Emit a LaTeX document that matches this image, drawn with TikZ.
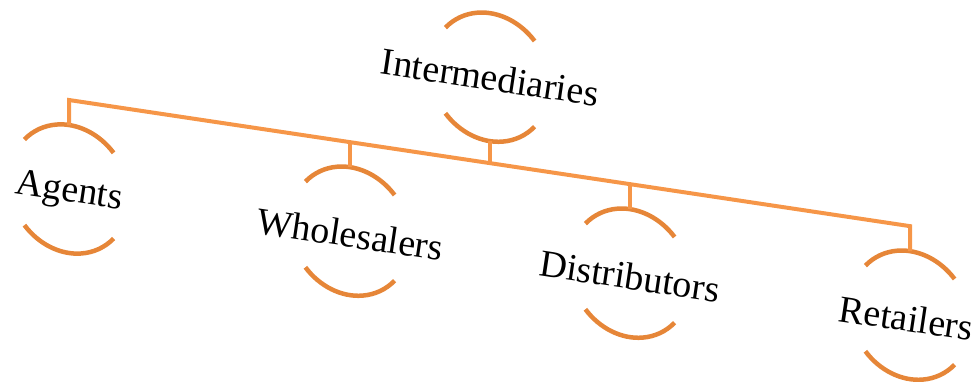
\documentclass[tikz,border=0pt]{standalone}
\usepackage{fontspec}
\setmainfont{Liberation Serif}
\definecolor{ringorange}{RGB}{230,134,56}
\definecolor{linkorange}{RGB}{246,150,72}
\begin{document}
\begin{tikzpicture}[x=1pt, y=1pt,
  ring/.style={ringorange, line width=4.5pt},
  link/.style={linkorange, line width=4pt},
  lbl/.style={font=\fontsize{38}{40}\selectfont, rotate=-8.5, inner sep=0pt}]
\useasboundingbox (0,0) rectangle (978,-381);
\begin{scope}[shift={(69,-189)}, yslant=-0.15]
\foreach \n/\x/\y in {agents/0/0, wholesalers/281/0, distributors/561/0, retailers/841/0, inter/421/175}
{
    \coordinate (\n) at (\x,\y);
    \coordinate (\n-top) at (\x,\y+64);
    \coordinate (\n-bot) at (\x,\y-64);
    \coordinate (\n-bus) at (\x,89);
    \draw[ring](\x,\y) ++(42:60 and 64) arc[start angle=42, end angle=138, x radius=60, y radius=64];
    \draw[ring](\x,\y) ++(222:60 and 64) arc[start angle=222, end angle=318, x radius=60, y radius=64];
}
\end{scope}
\draw[link](agents-top)--(agents-bus)--(retailers-bus)--(retailers-top);
\draw[link](inter-bot)--(inter-bus);
\foreach \n in {wholesalers,distributors}
    \draw[link](\n-top)--(\n-bus);
\node[lbl] (inter-txt) at (inter) {Intermediaries};
\node[lbl] (agents-txt) at ([yshift=-4]agents) {Agents};
\node[lbl] (wholesalers-txt) at ([yshift=-3]wholesalers) {Wholesalers};
\node[lbl] (distributors-txt) at ([yshift=-3]distributors) {Distributors};
\node[lbl] (retailers-txt) at ([xshift=-4,yshift=-3]retailers) {Retailers};
\end{tikzpicture}
\end{document}
